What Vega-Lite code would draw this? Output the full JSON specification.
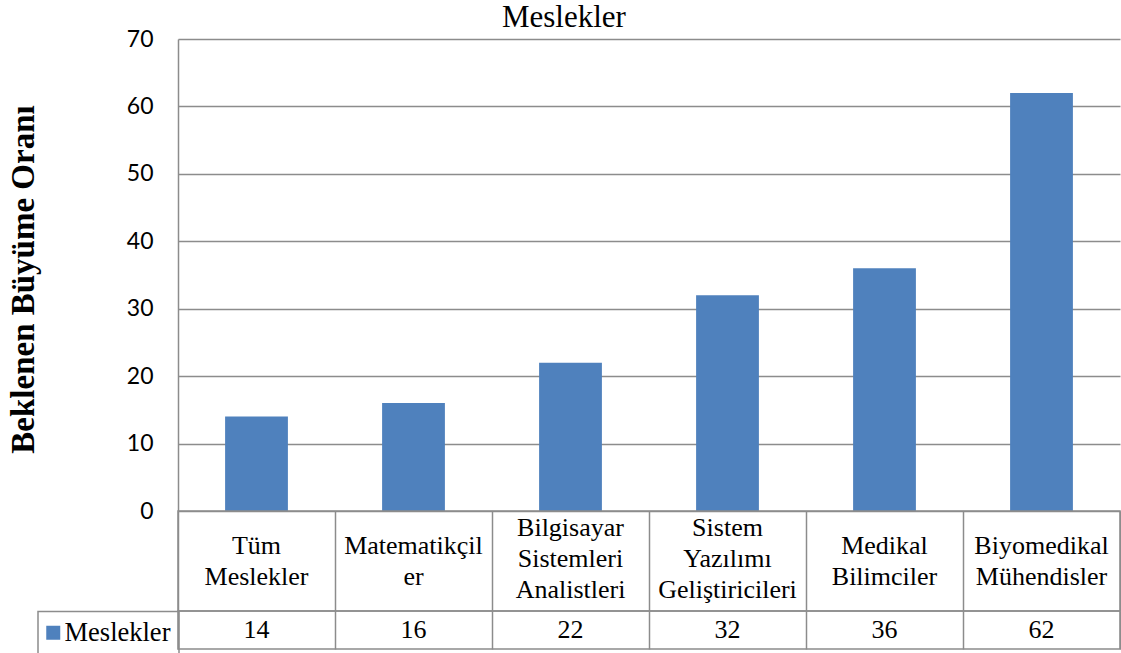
{
  "$schema": "https://vega.github.io/schema/vega-lite/v6.json",
  "background": "white",
  "padding": {"left": 6, "top": 2, "right": 1, "bottom": 3},
  "title": {"text": "Meslekler", "font": "Liberation Serif", "fontSize": 31, "fontWeight": "normal", "color": "black", "anchor": "middle", "baseline": "alphabetic", "offset": -30},
  "datasets": {
    "meslekler": [
      {"meslek": "Tüm Meslekler", "etiket": "Tüm\nMeslekler", "oran": 14, "seri": "Meslekler"},
      {"meslek": "Matematikçiler", "etiket": "Matematikçil\ner", "oran": 16, "seri": "Meslekler"},
      {"meslek": "Bilgisayar Sistemleri Analistleri", "etiket": "Bilgisayar\nSistemleri\nAnalistleri", "oran": 22, "seri": "Meslekler"},
      {"meslek": "Sistem Yazılımı Geliştiricileri", "etiket": "Sistem\nYazılımı\nGeliştiricileri", "oran": 32, "seri": "Meslekler"},
      {"meslek": "Medikal Bilimciler", "etiket": "Medikal\nBilimciler", "oran": 36, "seri": "Meslekler"},
      {"meslek": "Biyomedikal Mühendisler", "etiket": "Biyomedikal\nMühendisler", "oran": 62, "seri": "Meslekler"}
    ]
  },
  "data": {"name": "meslekler"},
  "spacing": 0,
  "bounds": "flush",
  "resolve": {"scale": {"x": "independent"}},
  "vconcat": [
    {
      "width": 942,
      "height": 472,
      "view": {"stroke": null},
      "mark": {"type": "bar"},
      "encoding": {
        "x": {"field": "meslek", "type": "nominal", "sort": null,
              "scale": {"domain": ["Tüm Meslekler", "Matematikçiler", "Bilgisayar Sistemleri Analistleri", "Sistem Yazılımı Geliştiricileri", "Medikal Bilimciler", "Biyomedikal Mühendisler"], "paddingInner": 0.6, "paddingOuter": 0.3},
              "axis": null},
        "y": {
          "field": "oran", "type": "quantitative",
          "scale": {"domain": [0, 70], "nice": false},
          "axis": {
            "values": [0, 10, 20, 30, 40, 50, 60, 70],
            "title": "Beklenen Büyüme Oranı",
            "grid": true, "gridColor": "#8c8c8c", "gridWidth": 1.5,
            "domain": true, "domainColor": "#8c8c8c", "domainWidth": 1.5,
            "ticks": false,
            "labelFont": "Lato", "labelFontSize": 23, "labelColor": "black", "labelPadding": 25,
            "titleFont": "Liberation Serif", "titleFontSize": 33, "titleFontWeight": "bold", "titleColor": "black",
            "titleX": -145, "titleY": 240, "titleBaseline": "alphabetic"
          }
        },
        "color": {
          "field": "seri", "type": "nominal",
          "scale": {"domain": ["Meslekler"], "range": ["#4F81BD"]},
          "legend": {
            "orient": "none", "legendX": -140, "legendY": 572.5,
            "title": null, "symbolType": "square", "symbolSize": 196, "symbolStrokeWidth": 0,
            "symbolOffset": -6,
            "labelFont": "Liberation Serif", "labelFontSize": 26.5, "labelColor": "black", "labelOffset": -2,
            "padding": 8, "strokeColor": "#8c8c8c",
            "encode": {"legend": {"update": {"strokeWidth": {"value": 1.5}}}}
          }
        }
      }
    },
    {
      "width": 942,
      "height": 100,
      "view": {"stroke": "#8c8c8c", "strokeWidth": 1.5},
      "encoding": {
        "x": {"field": "meslek", "type": "nominal", "sort": null,
              "scale": {"domain": ["Tüm Meslekler", "Matematikçiler", "Bilgisayar Sistemleri Analistleri", "Sistem Yazılımı Geliştiricileri", "Medikal Bilimciler", "Biyomedikal Mühendisler"], "paddingInner": 0, "paddingOuter": 0},
              "axis": {"grid": true, "tickBand": "extent", "labels": false, "ticks": false, "domain": false, "title": null, "gridColor": "#8c8c8c", "gridWidth": 1.5}},
        "text": {"field": "etiket", "type": "nominal"}
      },
      "layer": [
        {
          "transform": [{"filter": "length(split(datum.etiket, '\\n')) == 2"}],
          "mark": {"type": "text", "font": "Liberation Serif", "fontSize": 26, "lineHeight": 31, "lineBreak": "\n", "color": "black", "baseline": "middle", "dy": -15.5}
        },
        {
          "transform": [{"filter": "length(split(datum.etiket, '\\n')) == 3"}],
          "mark": {"type": "text", "font": "Liberation Serif", "fontSize": 26, "lineHeight": 31, "lineBreak": "\n", "color": "black", "baseline": "middle", "dy": -33}
        }
      ]
    },
    {
      "width": 942,
      "height": 38,
      "view": {"stroke": "#8c8c8c", "strokeWidth": 1.5},
      "mark": {"type": "text", "font": "Liberation Serif", "fontSize": 26, "color": "black", "baseline": "middle"},
      "encoding": {
        "x": {"field": "meslek", "type": "nominal", "sort": null,
              "scale": {"domain": ["Tüm Meslekler", "Matematikçiler", "Bilgisayar Sistemleri Analistleri", "Sistem Yazılımı Geliştiricileri", "Medikal Bilimciler", "Biyomedikal Mühendisler"], "paddingInner": 0, "paddingOuter": 0},
              "axis": {"grid": true, "tickBand": "extent", "labels": false, "ticks": false, "domain": false, "title": null, "gridColor": "#8c8c8c", "gridWidth": 1.5}},
        "text": {"field": "oran", "type": "quantitative"}
      }
    }
  ]
}
